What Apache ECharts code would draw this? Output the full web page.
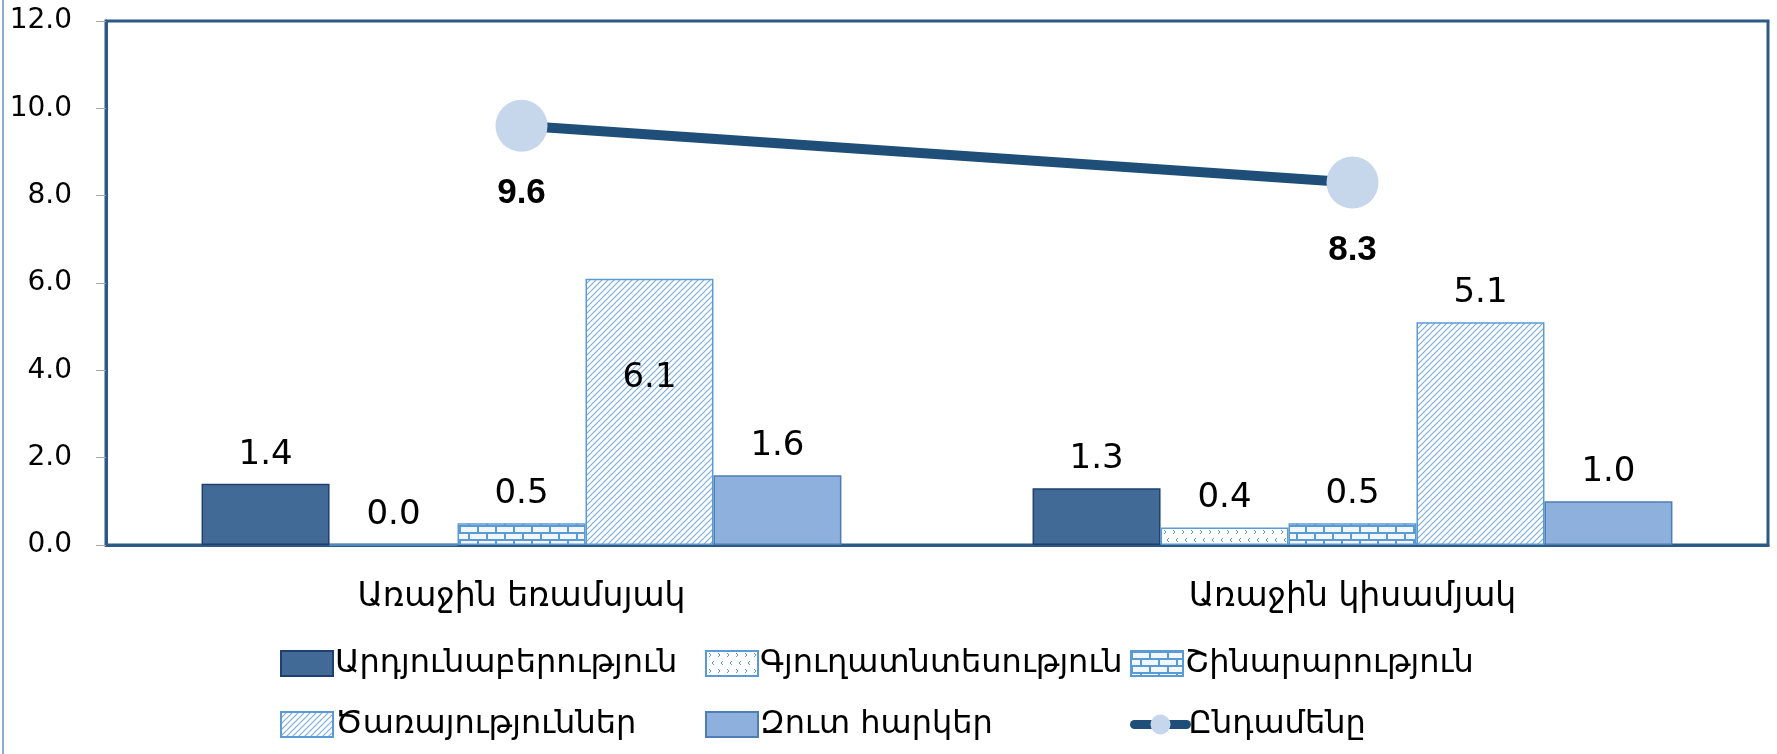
<!DOCTYPE html>
<html>
<head>
<meta charset="utf-8">
<script src="https://cdn.jsdelivr.net/npm/echarts@6/dist/echarts.min.js"></script>
<style>html,body{margin:0;padding:0;background:#fff}#c{width:1777px;height:754px}</style>
</head>
<body>
<div id="c"></div>
<script>
const categories = ['Առաջին եռամսյակ', 'Առաջին կիսամյակ'];
const seriesNames = ['Արդյունաբերություն', 'Գյուղատնտեսություն', 'Շինարարություն', 'Ծառայություններ', 'Զուտ հարկեր', 'Ընդամենը'];
const industry = [1.4, 1.3];
const agriculture = [0.0, 0.4];
const construction = [0.5, 0.5];
const services = [6.1, 5.1];
const netTaxes = [1.6, 1.0];
const total = [9.6, 8.3];
const yTicks = [0, 2, 4, 6, 8, 10, 12];

function makePattern(kind) {
  const c = document.createElement('canvas');
  const ctx = c.getContext('2d');
  const blue = '#5B9BD5';
  if (kind === 'chevron') {
    c.width = 18; c.height = 16;
    ctx.fillStyle = '#ffffff'; ctx.fillRect(0, 0, 18, 16);
    ctx.strokeStyle = blue; ctx.lineWidth = 1;
    ctx.beginPath();
    ctx.moveTo(3, 2); ctx.lineTo(5, 4); ctx.lineTo(3, 6);
    ctx.moveTo(12, 2); ctx.lineTo(14, 4); ctx.lineTo(12, 6);
    ctx.moveTo(8, 10); ctx.lineTo(6, 12); ctx.lineTo(8, 14);
    ctx.moveTo(17, 10); ctx.lineTo(15, 12); ctx.lineTo(17, 14);
    ctx.stroke();
  } else if (kind === 'brick') {
    c.width = 18; c.height = 14;
    ctx.fillStyle = '#F2F7FC'; ctx.fillRect(0, 0, 18, 14);
    ctx.strokeStyle = blue; ctx.lineWidth = 2;
    ctx.beginPath();
    ctx.moveTo(0, 1); ctx.lineTo(18, 1);
    ctx.moveTo(0, 8); ctx.lineTo(18, 8);
    ctx.moveTo(1, 1); ctx.lineTo(1, 8);
    ctx.moveTo(10, 8); ctx.lineTo(10, 14);
    ctx.stroke();
  } else if (kind === 'hatch') {
    c.width = 6; c.height = 6;
    ctx.fillStyle = '#ffffff'; ctx.fillRect(0, 0, 6, 6);
    ctx.strokeStyle = '#7AAEDF'; ctx.lineWidth = 1.2;
    ctx.beginPath();
    ctx.moveTo(-1, 7); ctx.lineTo(7, -1);
    ctx.moveTo(-4, 4); ctx.lineTo(4, -4);
    ctx.moveTo(2, 10); ctx.lineTo(10, 2);
    ctx.stroke();
  }
  return { image: c, repeat: 'repeat' };
}

const barLabel = {
  show: true, position: 'top', distance: 12,
  fontFamily: 'DejaVu Sans', fontSize: 34, color: '#000',
  formatter: p => Number(p.value).toFixed(1)
};

function barSeries(name, data, itemStyle, overrides) {
  return {
    name: name, type: 'bar', barGap: '0%', barCategoryGap: '23%',
    data: data.map((v, i) => (overrides && overrides[i]) ? Object.assign({ value: v }, overrides[i]) : v),
    itemStyle: itemStyle, label: barLabel, z: 2
  };
}

const legendData = seriesNames.map((n, i) => i < 5 ? { name: n, icon: 'rect' } : { name: n, lineStyle: { width: 9, cap: 'round' } });

const chart = echarts.init(document.getElementById('c'));
chart.setOption({
  animation: false,
  backgroundColor: '#ffffff',
  grid: { left: 106, right: 9, top: 21, bottom: 209, show: true, borderColor: '#2D5986', borderWidth: 3, containLabel: false },
  graphic: [{ type: 'line', shape: { x1: 3, y1: 0, x2: 3, y2: 754 }, style: { stroke: '#8FAACC', lineWidth: 2 } }],
  legend: {
    left: 275, top: 628, width: 1300, itemGap: 0, itemWidth: 52, itemHeight: 25,
    align: 'left',
    data: legendData,
    textStyle: { fontFamily: 'DejaVu Sans', fontSize: 32, color: '#000', width: 370, overflow: 'none', lineHeight: 61, padding: [0, 0, 0, -3] }
  },
  xAxis: {
    type: 'category', data: categories,
    axisLine: { lineStyle: { color: '#2D5986', width: 3 } },
    axisTick: { show: false },
    axisLabel: { fontFamily: 'DejaVu Sans', fontSize: 33, color: '#000', margin: 36 }
  },
  yAxis: {
    type: 'value', min: yTicks[0], max: yTicks[yTicks.length - 1], interval: 2,
    splitLine: { show: false },
    axisLine: { show: true, lineStyle: { color: '#2D5986', width: 3 } },
    axisTick: { show: true, length: 10, lineStyle: { color: '#A6A6A6' } },
    axisLabel: { fontFamily: 'DejaVu Sans', fontSize: 28, color: '#000', margin: 34, formatter: v => v.toFixed(1) }
  },
  series: [
    barSeries(seriesNames[0], industry, { color: '#426A96', borderColor: '#1F3F6F', borderWidth: 1.5 }),
    barSeries(seriesNames[1], agriculture, { color: makePattern('chevron'), borderColor: '#5B9BD5', borderWidth: 1.5 }),
    barSeries(seriesNames[2], construction, { color: makePattern('brick'), borderColor: '#5B9BD5', borderWidth: 1.5 }),
    barSeries(seriesNames[3], services, { color: makePattern('hatch'), borderColor: '#5B9BD5', borderWidth: 1.5 },
      { 0: { label: { position: 'inside', offset: [0, -34] } } }),
    barSeries(seriesNames[4], netTaxes, { color: '#8DB0DC', borderColor: '#4F7DB5', borderWidth: 1.5 }),
    {
      name: seriesNames[5], type: 'line', data: total, z: 5,
      lineStyle: { color: '#1F4E79', width: 10 },
      itemStyle: { color: '#C6D6EB' },
      symbol: 'circle', symbolSize: 52,
      label: { show: true, position: 'bottom', distance: 24, fontFamily: 'Liberation Sans', fontWeight: 'bold', fontSize: 35, color: '#000',
        formatter: p => Number(p.value).toFixed(1) }
    }
  ]
});
</script>
</body>
</html>
